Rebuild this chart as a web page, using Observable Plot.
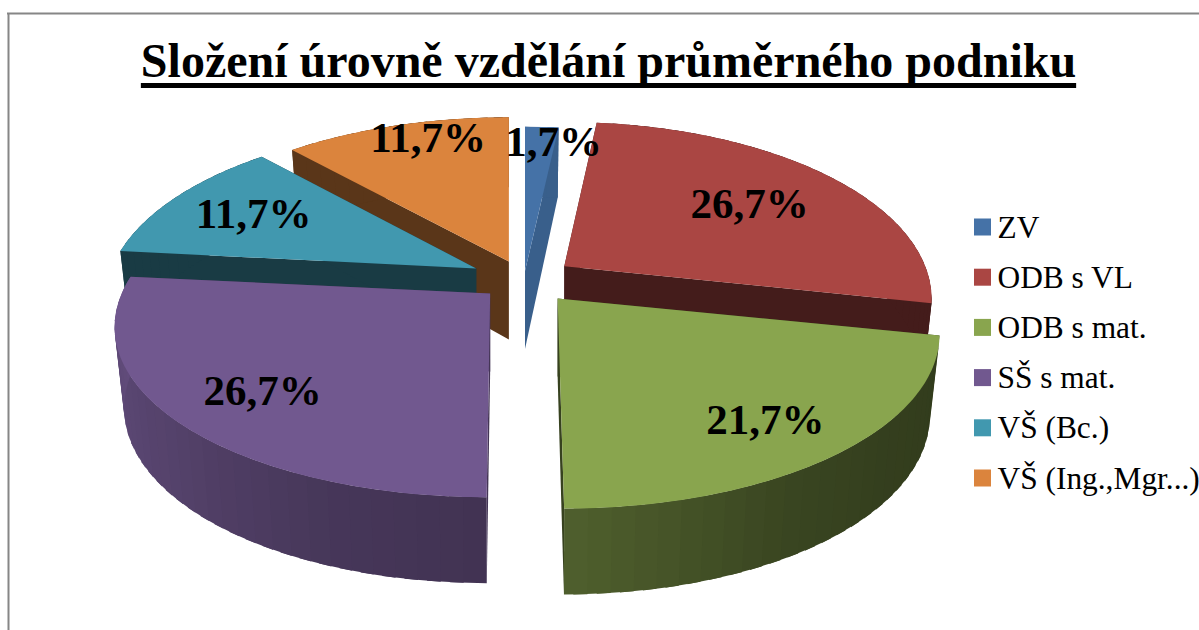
<!DOCTYPE html>
<html><head><meta charset="utf-8">
<script src="https://cdn.jsdelivr.net/npm/d3@7"></script>
<script src="https://cdn.jsdelivr.net/npm/@observablehq/plot@0.6"></script>
<style>
html,body{margin:0;padding:0;background:#fff;overflow:hidden}
#wrap{position:relative;width:1199px;height:630px;overflow:hidden}
#title{position:absolute;left:8.5px;top:31px;width:1200px;text-align:center;font:bold 48px "Liberation Serif",serif;color:#000;white-space:nowrap;
text-decoration:underline;text-decoration-thickness:5px;text-underline-offset:6px;text-decoration-skip-ink:none;line-height:60px}
</style></head><body>
<div id="wrap"><div id="title">Složení úrovně vzdělání průměrného podniku</div></div>
<script>
const categories = ["ZV","ODB s VL","ODB s mat.","SŠ s mat.","VŠ (Bc.)","VŠ (Ing.,Mgr...)"];
const values = [1.7,26.7,21.7,26.7,11.7,11.7];
const valueLabels = ["1,7%","26,7%","21,7%","26,7%","11,7%","11,7%"];
const colors = ["#4572a7","#aa4643","#89a54e","#71588f","#4198af","#db843d"];

// layout of the 3D pie
const center = [523.5,279], explode = [.05,.135,.14,.12,.145,.115];
const faceShade = [.83,.4,.4,.6,.39,.41];
const wallShade = d3.scaleLinear([102,130,150,180,200,230,276.5],[.36,.38,.42,.58,.62,.75,.88]);
const xStretch = [1,.965,1,.985,.975,.985], yStretch = [1,1,1,.97,1,1], lean = [0,0,6.5,-3.5,0,0];
const labelRadius = [.85,.65,.78,.76,.72,.8], labelDx = [14,8,-3,4,-2,12], labelDy = [-3,-1,5,5,-2,-11];
const paintOrder = [5,4,0,1,3,2];
const B=374,A=171,K=.186,bottomScale=.975;

const rad = d => d*Math.PI/180;
const proj = (X,Y) => [B*X/(1-K*Y), A*Y/(1-K*Y)];
const total = d3.sum(values);
let acc=0;
const slices = values.map((v,i)=>{
  const a0=acc/total*360; acc+=v; const a1=acc/total*360, mid=(a0+a1)/2;
  const [ex,ey]=proj(explode[i]*Math.sin(rad(mid)),-explode[i]*Math.cos(rad(mid)));
  return {i,a0,a1,mid,apex:[center[0]+ex,center[1]+ey]};
});
const rel = (s,r,a)=>{
  const Y=-r*Math.cos(rad(a)),p=proj(r*Math.sin(rad(a)),Y);
  return [p[0]*xStretch[s.i]+lean[s.i]*Math.max(0,Y),p[1]*yStretch[s.i]];
};
const topPt = (s,a)=>{const p=rel(s,1,a);return [s.apex[0]+p[0],s.apex[1]+p[1]];};
const depth = Y=>Y<0?78+8*Y:80+6*Y;
const botPt = (s,a)=>{const p=rel(s,1,a);return [s.apex[0]+p[0]*bottomScale,s.apex[1]+p[1]+depth(-Math.cos(rad(a)))];};
const botApex = s=>[s.apex[0],s.apex[1]+78];
const shade=(c,f)=>{const r=d3.rgb(c);return d3.rgb(r.r*f,r.g*f,r.b*f).formatHex();};

const layers=[]; let pid=0;
const poly=(list,pts,fill)=>{pid++;pts.forEach(p=>list.push({x:p[0],y:p[1],id:pid,fill}));};
for(const i of paintOrder){
  const s=slices[i],c=colors[i],dark=shade(c,faceShade[i]),side=[],top=[];
  for(const a of [s.a0,s.a1]) poly(side,[s.apex,topPt(s,a),botPt(s,a),botApex(s)],dark);
  const n=Math.max(2,Math.ceil((s.a1-s.a0)/3)),d=(s.a1-s.a0)/n;
  for(let k=0;k<n;k++){
    const u=s.a0+d*k,v=Math.min(s.a1,u+d*1.6),m=u+d/2;
    const f=(m>=102&&m<=276.45)?wallShade(m):faceShade[i];
    poly(side,[topPt(s,u),topPt(s,v),botPt(s,v),botPt(s,u)],shade(c,f));
  }
  const arc=[s.apex]; for(let a=s.a0;a<s.a1;a+=1)arc.push(topPt(s,a)); arc.push(topPt(s,s.a1));
  poly(top,arc,c);
  layers.push(side,top);
}
const labels=slices.map(s=>{const p=rel(s,labelRadius[s.i],s.mid);return {x:s.apex[0]+p[0]+labelDx[s.i],y:s.apex[1]+p[1]+labelDy[s.i],t:valueLabels[s.i]};});
const legendRows=categories.map((c,i)=>({c,color:colors[i],y:227+50.2*i}));

const chart=Plot.plot({
  width:1199,height:630,margin:0,
  x:{domain:[0,1199],range:[0,1199],axis:null},
  y:{domain:[0,630],range:[0,630],axis:null},
  color:{type:"identity"},
  style:{background:"transparent",fontFamily:"Liberation Serif"},
  marks:[
    Plot.ruleX([8],{y1:13,y2:630,stroke:"#868686",strokeWidth:2}),
    Plot.ruleY([13],{x1:7,x2:1199,stroke:"#868686",strokeWidth:2}),
    ...layers.map(l=>Plot.line(l,{x:"x",y:"y",z:"id",fill:"fill",curve:"linear-closed",stroke:"none"})),
    Plot.text(labels,{x:"x",y:"y",text:"t",fontSize:43,fontWeight:"bold",fill:"#000",textAnchor:"middle",lineAnchor:"middle"}),
    Plot.rect(legendRows,{x1:()=>974,x2:()=>991,y1:d=>d.y-8.5,y2:d=>d.y+8.5,fill:"color"}),
    Plot.text(legendRows,{x:()=>997,y:"y",text:"c",fontSize:31.4,fill:"#000",textAnchor:"start",lineAnchor:"middle"})
  ]
});
document.getElementById("wrap").appendChild(chart);
</script>
</body></html>
